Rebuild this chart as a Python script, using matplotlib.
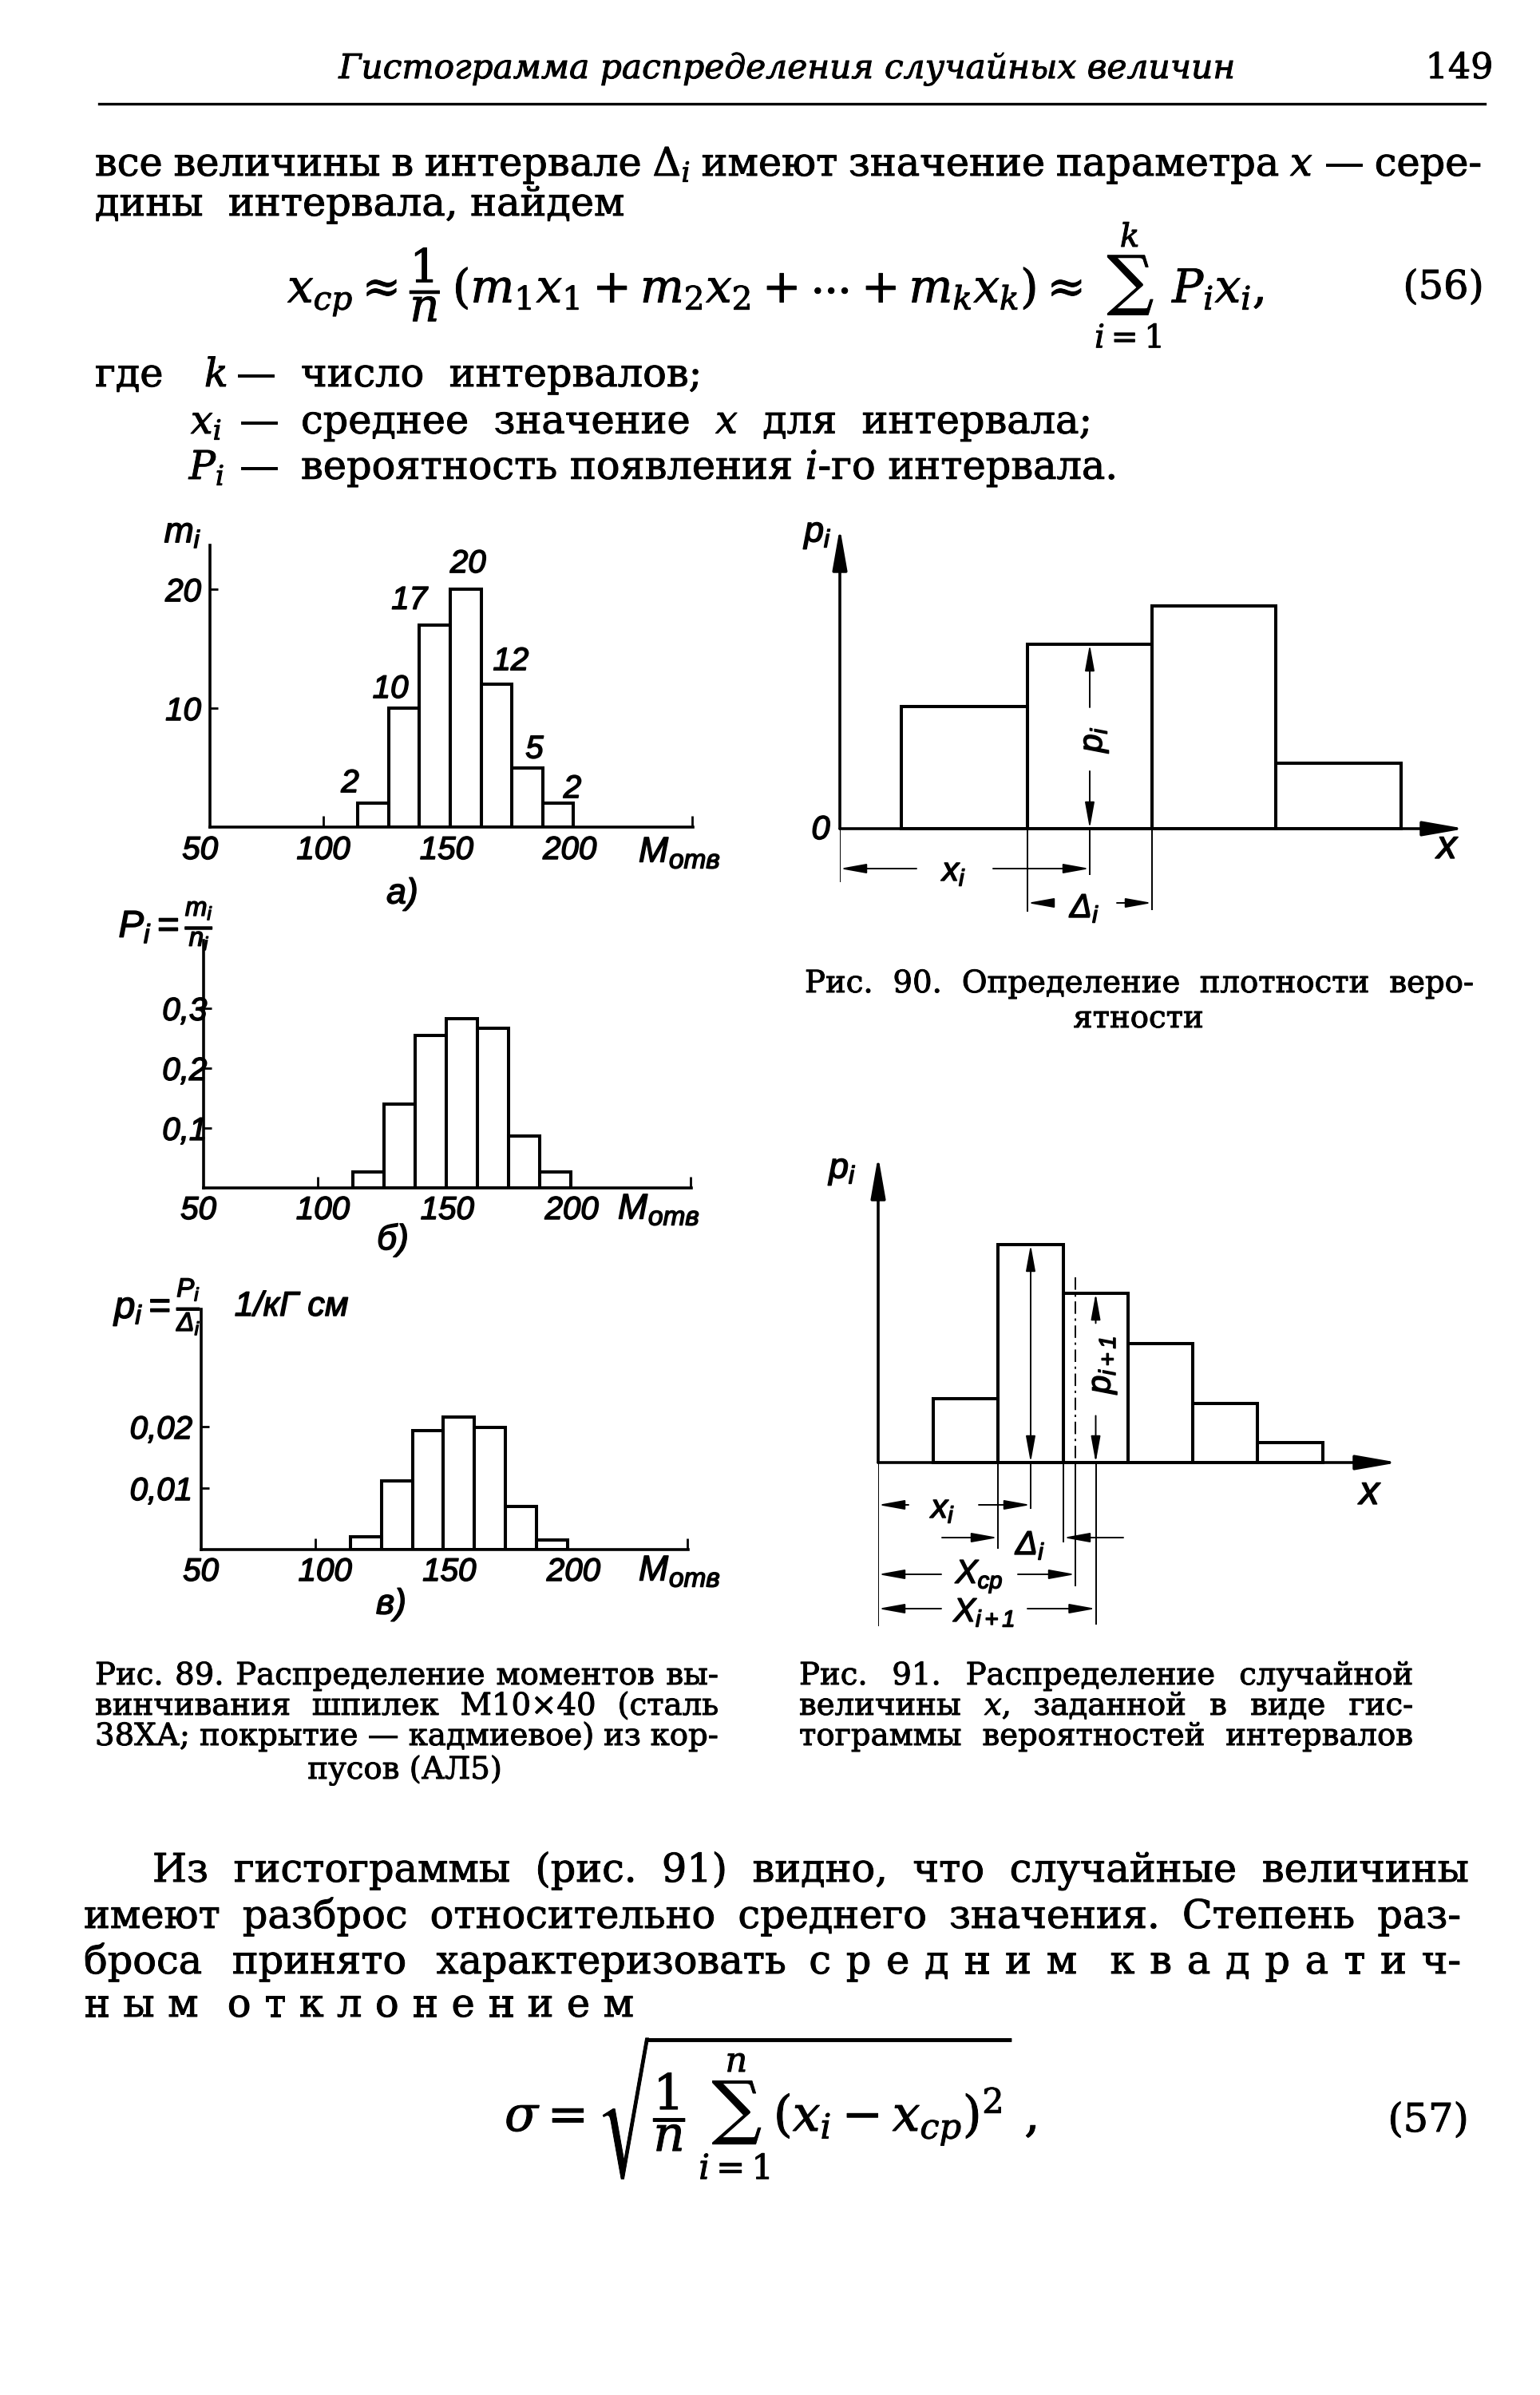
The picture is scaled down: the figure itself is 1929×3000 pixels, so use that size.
import numpy as np
import matplotlib
matplotlib.use("Agg")
import matplotlib.pyplot as plt
import matplotlib.patheffects as pe

W, H = 1929, 3000
plt.rcParams['mathtext.fontset'] = 'custom'
plt.rcParams['mathtext.rm'] = 'Liberation Sans:italic'
plt.rcParams['mathtext.it'] = 'Liberation Sans:italic'
plt.rcParams['mathtext.bf'] = 'Liberation Sans:bold:italic'
plt.rcParams['mathtext.sf'] = 'Liberation Sans:italic'

# ---------------- data ----------------
# Рис. 89: интервалы M_отв (общие для а, б, в)
bin_edges = [114, 126.5, 139, 151.5, 164, 176.5, 189, 201.5]
counts_m = [2, 10, 17, 20, 12, 5, 2]                                  # а) m_i
prob_P = [0.027, 0.14, 0.255, 0.283, 0.267, 0.087, 0.027]             # б) P_i
dens_p = [0.0021, 0.0112, 0.0194, 0.0216, 0.0199, 0.0070, 0.0015]     # в) p_i
x_ticks_89 = [50, 100, 150, 200]
y_ticks_a = [10, 20]
y_labels_a = ['10', '20']
y_ticks_b = [0.1, 0.2, 0.3]
y_labels_b = ['0,1', '0,2', '0,3']
y_ticks_c = [0.01, 0.02]
y_labels_c = ['0,01', '0,02']

# Рис. 90 (схема)
f90_edges = [0.77, 2.35, 3.91, 5.46, 7.03]
f90_heights = [1.53, 2.31, 2.79, 0.82]
# Рис. 91 (схема)
f91_edges = [0.69, 1.50, 2.32, 3.13, 3.94, 4.75, 5.57]
f91_heights = [0.80, 2.73, 2.12, 1.49, 0.74, 0.25]
f91_xcp = 2.47

# ---------------- helpers ----------------
fig = plt.figure(figsize=(W / 100, H / 100), dpi=100)
fig.patch.set_facecolor('white')
R = fig.canvas.get_renderer()

HEAVY = [pe.withStroke(linewidth=0.7, foreground='black')]
DRAFT = [pe.withStroke(linewidth=1.1, foreground='black')]
BODY = dict(family='DejaVu Serif', math_fontfamily='dejavuserif', path_effects=HEAVY)
SANS = dict(family='Liberation Sans', style='italic', path_effects=DRAFT)
FS = 29  # drafting label size


def fx(x):
    return x / W


def fy(y):
    return 1 - y / H


def twidth(s, size, **kw):
    t = fig.text(0, 0, s, fontsize=size, **kw)
    w = t.get_window_extent(renderer=R).width
    t.remove()
    return w


def fit_size(s, width, **kw):
    return 20 * width / twidth(s, 20, **kw)


def put(x, y, s, size, ha='left', va='baseline', **kw):
    return fig.text(fx(x), fy(y), s, fontsize=size, ha=ha, va=va, **kw)


def justify(tokens, x0, x1, y, size, weights=None, **kw):
    widths = [twidth(t, size, **kw) for t in tokens]
    if weights is None:
        weights = [1] * (len(tokens) - 1)
    unit = (x1 - x0 - sum(widths)) / max(sum(weights), 1e-9)
    x = x0
    for i, (t, w) in enumerate(zip(tokens, widths)):
        put(x, y, t, size, **kw)
        if i < len(weights):
            x += w + unit * weights[i]


def px_axes(l, t, r, b):
    return fig.add_axes([fx(l), fy(b), (r - l) / W, (b - t) / H])


# ---------------- page text ----------------
hdr = "Гистограмма распределения случайных величин"
HDR = dict(family='DejaVu Serif', style='italic', path_effects=HEAVY)
hsize = fit_size(hdr, 1121, **HDR)
put(986, 98, hdr, hsize, ha='center', **HDR)
put(1828, 98, "149", hsize * 1.05, ha='center', family='DejaVu Serif', path_effects=HEAVY)
fig.add_artist(plt.Line2D([fx(124), fx(1860)], [fy(130), fy(130)], color='black', lw=2.4))

bsize = fit_size("вероятность появления $i$-го интервала.", 1021, **BODY)

justify(["все", "величины", "в", "интервале", r"$\Delta_i$", "имеют", "значение",
         "параметра", "$x$", "—", "сере-"], 119, 1856, 220, bsize, **BODY)
put(119, 270, "дины  интервала, найдем", bsize, **BODY)

f56 = r"$x_{ср}\approx\dfrac{1}{n}\,(m_1x_1+m_2x_2+\cdots+m_kx_k)\approx\sum_{i=1}^{k}\,P_ix_i,$"
s56 = fit_size(f56, 1225, **BODY)
put(360, 357, f56, s56, va='center', **BODY)
put(1808, 374, "(56)", bsize, ha='center', **BODY)

put(119, 484, "где", bsize, **BODY)
put(285, 484, "$k$", bsize, ha='right', **BODY)
put(296, 484, "—", bsize, **BODY)
put(377, 484, "число  интервалов;", bsize, **BODY)
put(278, 543, "$x_i$", bsize, ha='right', **BODY)
put(300, 543, "—", bsize, **BODY)
put(377, 543, "среднее  значение  $x$  для  интервала;", bsize, **BODY)
put(282, 600, "$P_i$", bsize, ha='right', **BODY)
put(300, 600, "—", bsize, **BODY)
put(377, 600, "вероятность появления $i$-го интервала.", bsize, **BODY)

# captions
csize = fit_size("тограммы вероятностей интервалов", 740, **BODY)
justify(["Рис.", "90.", "Определение", "плотности", "веро-"], 1008, 1846, 1243, csize, **BODY)
put(1426, 1287, "ятности", csize, ha='center', **BODY)

justify(["Рис.", "89.", "Распределение", "моментов", "вы-"], 119, 900, 2110, csize, **BODY)
justify(["винчивания", "шпилек", "М10×40", "(сталь"], 119, 900, 2148, csize, **BODY)
justify(["38ХА;", "покрытие — кадмиевое)", "из", "кор-"], 119, 900, 2186, csize, **BODY)
put(507, 2228, "пусов (АЛ5)", csize, ha='center', **BODY)

justify(["Рис.", "91.", "Распределение", "случайной"], 1001, 1770, 2110, csize, **BODY)
justify(["величины", "$x$,", "заданной", "в", "виде", "гис-"], 1001, 1770, 2148, csize, **BODY)
justify(["тограммы", "вероятностей", "интервалов"], 1001, 1770, 2186, csize, **BODY)

# bottom paragraph
justify(["Из", "гистограммы", "(рис.", "91)", "видно,", "что", "случайные", "величины"],
        191, 1840, 2357, bsize, **BODY)
justify(["имеют", "разброс", "относительно", "среднего", "значения.", "Степень", "раз-"],
        105, 1830, 2415, bsize, **BODY)
t3 = ["броса", "принято", "характеризовать"] + list("средним") + list("квадрати") + ["ч-"]
w3 = [2, 2, 1.5] + [1] * 6 + [2.2] + [1] * 8
justify(t3, 105, 1830, 2472, bsize, weights=w3, **BODY)
t4 = list("ным") + list("отклонением")
w4 = [1, 1, 2.2] + [1] * 10
justify(t4, 105, 794, 2526, bsize, weights=w4, **BODY)

f57 = r"$\sigma=\sqrt{\dfrac{1}{n}\,\sum_{i=1}^{n}(x_i-x_{ср})^2}\;,$"
s57 = fit_size(f57, 669, **BODY)
put(632, 2640, f57, s57, va='center', **BODY)
put(1789, 2670, "(57)", bsize, ha='center', **BODY)

# ---------------- Рис. 89 histograms ----------------
LW = 2.9


def hist89(rect, heights, ymax, yticks, ylabels, ypad, xshift, xlab_dy):
    ax = px_axes(*rect)
    ax.set_xlim(54, 250)
    ax.set_ylim(0, ymax)
    ax.patch.set_alpha(0)
    ax.bar(bin_edges[:-1], heights, width=np.diff(bin_edges), align='edge',
           fill=False, edgecolor='black', linewidth=LW, joinstyle='miter')
    for s in ['top', 'right']:
        ax.spines[s].set_visible(False)
    for s in ['left', 'bottom']:
        ax.spines[s].set_linewidth(2.6)
    ax.set_xticks([100, 249.6])
    ax.set_xticklabels([])
    ax.tick_params(axis='x', direction='in', length=10, width=2.0)
    ax.set_yticks(yticks)
    ax.set_yticklabels(ylabels)
    ax.tick_params(axis='y', direction='in', length=7, width=2.0, pad=ypad)
    for lb in ax.get_yticklabels():
        lb.set_fontfamily('Liberation Sans')
        lb.set_style('italic')
        lb.set_fontsize(FS)
        lb.set_path_effects(DRAFT)
    for v in x_ticks_89:
        ax.annotate(str(v), xy=(v, 0), xycoords=('data', 'axes fraction'),
                    xytext=(xshift, -xlab_dy), textcoords='offset pixels',
                    ha='center', va='center', fontsize=FS, annotation_clip=False, **SANS)
    return ax


def motv(x, y):
    put(x, y, "M", 32, va='center', **SANS)
    put(x + 38, y + 11, "отв", 24, va='center', **SANS)


# а)
ax_a = hist89((263, 683, 868, 1036), counts_m, 23.7, y_ticks_a, y_labels_a, 8, 0, 29)
lab_off_a = [(-29, 25), (-17, 24), (-32, 31), (3, 32), (18, 29), (9, 23), (18, 18)]
centers = [(bin_edges[i] + bin_edges[i + 1]) / 2 for i in range(len(counts_m))]
for c, m, (dx, dy) in zip(centers, counts_m, lab_off_a):
    ax_a.annotate(str(m), xy=(c, m), xytext=(dx, dy), textcoords='offset pixels',
                  ha='center', va='center', fontsize=FS, **SANS)
put(229, 668, "$m_i$", 32, ha='center', va='center', **SANS)
motv(800, 1068)
put(504, 1120, "а)", 32, ha='center', va='center', **SANS)

# б)
ax_b = hist89((255, 1178, 866, 1488), prob_P, 0.413, y_ticks_b, y_labels_b, -3, 6, 28)
put(208, 1160, r"$P_i=\frac{m_i}{n_i}$", 34, ha='center', va='center', **SANS)
motv(774, 1515)
put(492, 1553, "б)", 32, ha='center', va='center', **SANS)

# в)
ax_c = hist89((252, 1640, 862, 1941), dens_p, 0.0391, y_ticks_c, y_labels_c, 8, 12, 28)
put(198, 1637, r"$p_i=\frac{P_i}{\Delta_i}$", 34, ha='center', va='center', **SANS)
put(365, 1637, "1/кГ см", 31, ha='center', va='center', **SANS)
motv(800, 1968)
put(490, 2010, "в)", 32, ha='center', va='center', **SANS)

# ---------------- arrows helpers ----------------
THIN = 1.4
HEAD = '-|>,head_length=1.0,head_width=0.18'
AXHEAD = '-|>,head_length=1.6,head_width=0.28'
LS = 30  # label size in Fig. 90/91


def arrow(ax, x0, y0, x1, y1, lw=THIN, style=HEAD):
    ax.annotate('', xy=(x1, y1), xytext=(x0, y0),
                arrowprops=dict(arrowstyle=style, color='black', lw=lw,
                                mutation_scale=20, shrinkA=0, shrinkB=0),
                annotation_clip=False)


def vline(ax, x, y0, y1, lw=THIN, ls='-'):
    ax.plot([x, x], [y0, y1], color='black', lw=lw, ls=ls, solid_capstyle='butt')


def dim_out(ax, x0, x1, y, label, lx, half, size=LS, dy=0.0):
    arrow(ax, lx - half, y, x0, y)
    arrow(ax, lx + half, y, x1, y)
    ax.text(lx, y + dy, label, ha='center', va='center', fontsize=size, **SANS)


# ---------------- Рис. 90 ----------------
ax90 = px_axes(1052, 661, 1835, 1160)
ax90.set_xlim(0, 7.83)
ax90.set_ylim(-1.22, 3.77)
ax90.axis('off')
ax90.bar(f90_edges[:-1], f90_heights, width=np.diff(f90_edges), align='edge',
         fill=False, edgecolor='black', linewidth=LW, joinstyle='miter')
arrow(ax90, 0, 0, 0, 3.77, lw=2.6, style=AXHEAD)
arrow(ax90, 0, 0, 7.83, 0, lw=2.6, style=AXHEAD)
xc = (f90_edges[1] + f90_edges[2]) / 2
h = f90_heights[1]
gc = 0.485 * h
arrow(ax90, xc, gc + 0.40, xc, h)
arrow(ax90, xc, gc - 0.40, xc, 0)
ax90.text(xc + 0.06, gc, "$p_i$", rotation=90, ha='center', va='center', fontsize=LS, **SANS)
vline(ax90, 0, 0, -0.67)
vline(ax90, f90_edges[1], 0, -1.04)
vline(ax90, xc, 0, -0.58)
vline(ax90, f90_edges[2], 0, -1.02)
dim_out(ax90, 0, xc, -0.50, "$x_i$", 0.46 * xc, 0.48, dy=-0.04)
dim_out(ax90, f90_edges[1], f90_edges[2], -0.93, r"$\Delta_i$",
        (f90_edges[1] + f90_edges[2]) / 2 - 0.06, 0.40, dy=-0.07)
put(1025, 669, "$p_i$", 32, ha='center', va='center', **SANS)
put(1028, 1040, "0", 30, ha='center', va='center', **SANS)
put(1815, 1062, "$x$", 36, ha='center', va='center', **SANS)

# ---------------- Рис. 91 ----------------
ax91 = px_axes(1100, 1448, 1751, 2045)
ax91.set_xlim(0, 6.51)
ax91.set_ylim(-2.13, 3.84)
ax91.axis('off')
ax91.bar(f91_edges[:-1], f91_heights, width=np.diff(f91_edges), align='edge',
         fill=False, edgecolor='black', linewidth=LW, joinstyle='miter')
arrow(ax91, 0, 0, 0, 3.84, lw=2.6, style=AXHEAD)
arrow(ax91, 0, 0, 6.51, 0, lw=2.6, style=AXHEAD)
xi = (f91_edges[1] + f91_edges[2]) / 2
h1 = f91_heights[1]
ax91.annotate('', xy=(xi, h1), xytext=(xi, 0),
              arrowprops=dict(arrowstyle='<|-|>,head_length=1.0,head_width=0.18', color='black',
                              lw=THIN, mutation_scale=20, shrinkA=0, shrinkB=0))
x2 = (f91_edges[2] + f91_edges[3]) / 2
h2 = f91_heights[2]
g2 = 0.55 * h2
arrow(ax91, x2, g2 + 0.58, x2, h2)
arrow(ax91, x2, g2 - 0.58, x2, 0)
ax91.text(x2 + 0.09, g2 + 0.06, "$p_{i+1}$", rotation=90, ha='center', va='center', fontsize=LS, **SANS)
vline(ax91, f91_xcp, h2 + 0.2, 0, ls=(0, (8, 3, 1.5, 3)))
vline(ax91, 0, 0, -2.05)
vline(ax91, f91_edges[1], 0, -1.08)
vline(ax91, f91_edges[2], 0, -1.0)
vline(ax91, xi, 0, -0.58)
vline(ax91, f91_xcp, 0, -1.55)
vline(ax91, x2, 0, -2.03)
dim_out(ax91, 0, xi, -0.53, "$x_i$", 0.82, 0.44, dy=-0.05)
arrow(ax91, f91_edges[1] - 0.70, -0.94, f91_edges[1], -0.94)
arrow(ax91, f91_edges[2] + 0.75, -0.94, f91_edges[2], -0.94)
ax91.text((f91_edges[1] + f91_edges[2]) / 2, -1.04, r"$\Delta_i$", ha='center', va='center',
          fontsize=LS, **SANS)
dim_out(ax91, 0, f91_xcp, -1.40, "$X_{ср}$", 1.27, 0.48, dy=-0.03)
dim_out(ax91, 0, x2, -1.83, "$X_{i+1}$", 1.33, 0.54, dy=-0.05)
put(1056, 1466, "$p_i$", 32, ha='center', va='center', **SANS)
put(1718, 1871, "$x$", 36, ha='center', va='center', **SANS)

fig.savefig("out.png", dpi=100, facecolor='white')
